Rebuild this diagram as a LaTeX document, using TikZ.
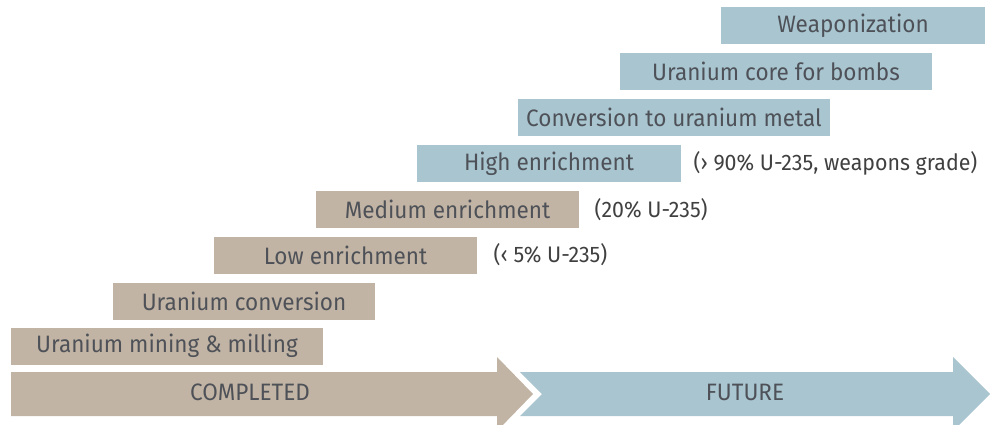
\documentclass[tikz,border=0pt]{standalone}
\usepackage{fontspec}
\setmainfont{Fira Sans}[FakeStretch = .95]
\usepackage{tikz}
\usetikzlibrary{positioning}
\definecolor{tan}{HTML}{C2B4A4}
\definecolor{steel}{HTML}{A9C5D0}
\definecolor{ink}{HTML}{4E5258}

\begin{document}
\begin{tikzpicture}[x = .02cm, y = -.02cm, font = \fontsize{13.5}{16}\selectfont, text = ink,
	stage/.style = {inner sep = 0, minimum height = .74cm},
	tanbox/.style = {stage, fill = tan},
	bluebox/.style = {stage, fill = steel},
	remark/.style = {inner sep = 0, anchor = west, font = \fontsize{12.8}{15}\selectfont, text = black!75}]
	\useasboundingbox (0,0) rectangle (993,424);
	% time line
	\fill[tan] (11,372) -- (497,372) -- (497,357) -- (533,394) -- (497,431) -- (497,416) -- (11,416) -- cycle;
	\fill[steel] (520,372) -- (953,372) -- (953,357) -- (990,394) -- (953,431) -- (953,416) -- (520,416) -- (542,394) -- cycle;
	\node (done) at (250,392) {COMPLETED};
	\node (ahead) at (745,392) {FUTURE};
	% steps
	\node[tanbox, minimum width = 6.24cm] (mining) at (167,346) {Uranium mining \& milling};
	\node[tanbox, minimum width = 5.24cm] (conv) at (244,301) {Uranium conversion};
	\node[tanbox, minimum width = 5.26cm] (low) at (345.5,255) {Low enrichment};
	\node[tanbox, minimum width = 5.26cm] (medium) at (447.5,209.5) {Medium enrichment};
	\node[bluebox, minimum width = 5.28cm] (high) at (549,163.5) {High enrichment};
	\node[bluebox, minimum width = 6.24cm] (metal) at (674,117.5) {Conversion to uranium metal};
	\node[bluebox, minimum width = 6.24cm] (core) at (776,71.5) {Uranium core for bombs};
	\node[bluebox, minimum width = 5.28cm] (weapon) at (853,25.5) {Weaponization};
	% grades
	\node[remark, right = .32cm of low] (lowpct) {(‹ 5\% U-235)};
	\node[remark, right = .3cm of medium] (medpct) {(20\% U-235)};
	\node[remark, right = .24cm of high] (highpct) {(› 90\% U-235, weapons grade)};
\end{tikzpicture}
\end{document}
